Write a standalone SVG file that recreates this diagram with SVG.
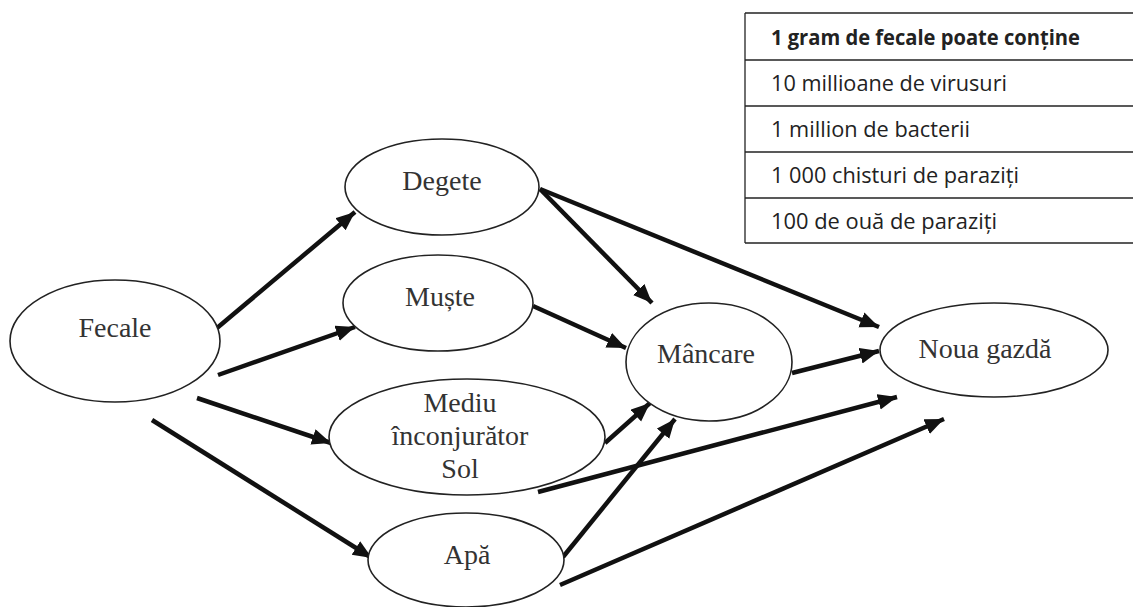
<svg xmlns="http://www.w3.org/2000/svg" width="1133" height="607" viewBox="0 0 1133 607">
<style>
.node ellipse{fill:#fff;stroke:#222;stroke-width:1.6}
.node text{font-family:"Liberation Serif",serif;font-size:28px;fill:#333;text-anchor:middle}
.conn line{stroke:#111;stroke-width:4.5;marker-end:url(#ah)}
.tbl line{stroke:#222;stroke-width:1.3}
.tbl text{font-family:"Open Sans","Liberation Sans",sans-serif;font-size:21px;fill:#222}
</style>
<defs>
<marker id="ah" markerUnits="userSpaceOnUse" markerWidth="22" markerHeight="18" refX="19" refY="8" orient="auto">
<path d="M0,0 L19,8 L0,16 Z" fill="#111"/>
</marker>
</defs>
<rect width="1133" height="607" fill="#fff"/>
<g id="table" class="tbl">
<line x1="745" y1="13" x2="1133" y2="13"/>
<line x1="745" y1="60" x2="1133" y2="60"/>
<line x1="745" y1="106" x2="1133" y2="106"/>
<line x1="745" y1="152" x2="1133" y2="152"/>
<line x1="745" y1="198" x2="1133" y2="198"/>
<line x1="745" y1="243" x2="1133" y2="243"/>
<line x1="745" y1="13" x2="745" y2="243"/>
<text x="771" y="45" font-weight="bold" font-size="20" textLength="309" lengthAdjust="spacingAndGlyphs">1 gram de fecale poate conține</text>
<text x="771" y="91" textLength="236" lengthAdjust="spacingAndGlyphs">10 millioane de virusuri</text>
<text x="771" y="137" textLength="199" lengthAdjust="spacingAndGlyphs">1 million de bacterii</text>
<text x="771" y="183" textLength="248" lengthAdjust="spacingAndGlyphs">1 000 chisturi de paraziți</text>
<text x="771" y="229" textLength="226" lengthAdjust="spacingAndGlyphs">100 de ouă de paraziți</text>
</g>
<g id="connectors" class="conn">
<line x1="217" y1="328" x2="355" y2="212"/>
<line x1="218" y1="375" x2="355" y2="327"/>
<line x1="197" y1="398" x2="331" y2="443"/>
<line x1="152" y1="420" x2="372" y2="558"/>
<line x1="540" y1="189" x2="652" y2="303"/>
<line x1="540" y1="189" x2="879" y2="327"/>
<line x1="533" y1="306" x2="626" y2="348"/>
<line x1="792" y1="373" x2="879" y2="351"/>
<line x1="605" y1="443" x2="650" y2="403"/>
<line x1="538" y1="492" x2="897" y2="397"/>
<line x1="563" y1="557" x2="675" y2="419"/>
<line x1="560" y1="585" x2="944" y2="419"/>
</g>
<g id="fecale" class="node"><ellipse cx="115" cy="341" rx="105" ry="61"/><text x="115" y="337">Fecale</text></g>
<g id="degete" class="node"><ellipse cx="442" cy="187" rx="97" ry="48"/><text x="442" y="190">Degete</text></g>
<g id="muste" class="node"><ellipse cx="438" cy="303" rx="95" ry="48"/><text x="440" y="306">Muște</text></g>
<g id="mediu" class="node"><ellipse cx="467" cy="437" rx="138" ry="58"/><text x="460" y="412">Mediu</text><text x="460" y="445">înconjurător</text><text x="460" y="478">Sol</text></g>
<g id="apa" class="node"><ellipse cx="466" cy="560" rx="98" ry="47"/><text x="467" y="564">Apă</text></g>
<g id="mancare" class="node"><ellipse cx="709" cy="362" rx="83" ry="59"/><text x="706" y="363">Mâncare</text></g>
<g id="noua" class="node"><ellipse cx="994" cy="350" rx="114" ry="47"/><text x="985" y="358">Noua gazdă</text></g>
</svg>
